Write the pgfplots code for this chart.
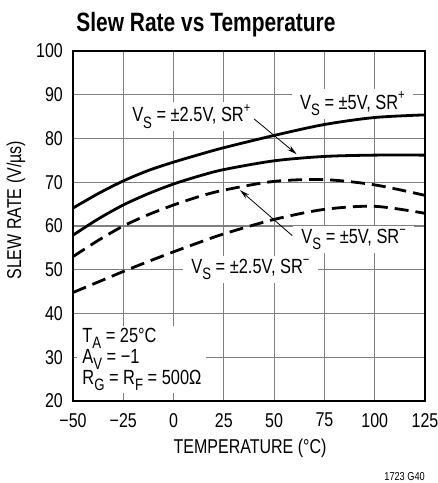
\documentclass[border=0pt]{standalone}
\usepackage{pgfplots}
\pgfplotsset{compat=1.18}
\usetikzlibrary{arrows.meta}
\usepackage{fontspec}
\setmainfont{Liberation Sans}[FakeStretch=0.80]
\newfontfamily\titlefont{Liberation Sans}[FakeStretch=0.79]
\newcommand{\sub}[1]{\raisebox{-0.3em}{\fontsize{16.5bp}{16.5bp}\selectfont #1}}
\newcommand{\sups}[1]{\raisebox{0.45em}{\fontsize{14bp}{14bp}\selectfont #1}}
\definecolor{gridgray}{gray}{0.5}
\tikzset{lbl/.style={fill=white, inner xsep=8bp, inner ysep=3bp, anchor=base west,
  font=\fontsize{20.5bp}{22bp}\selectfont}}

\begin{document}
\begin{tikzpicture}
\begin{axis}[
  set layers,
  at={(0,0)}, anchor=south west,
  scale only axis,
  width=352bp, height=350bp,
  xmin=-50, xmax=125,
  ymin=20, ymax=100,
  xtick={-50,-25,0,25,50,75,100,125},
  xticklabels={−50,−25,0,25,50,75,100,125},
  ytick={20,30,40,50,60,70,80,90,100},
  grid=major,
  grid style={gridgray, line width=1.2bp},
  axis line style={line width=1.8bp},
  major tick length=0pt,
  /pgf/number format/assume math mode=true,
  tick label style={font=\fontsize{20bp}{22bp}\selectfont, inner sep=0pt},
  xticklabel style={anchor=north, yshift=-12bp},
  yticklabel style={anchor=east, xshift=-10bp},
  xlabel={TEMPERATURE (°C)},
  xlabel style={font=\fontsize{20bp}{22bp}\selectfont, at={(axis description cs:0.503,0)}, anchor=base, yshift=-52bp, inner sep=0pt},
  ylabel={SLEW RATE (V/µs)},
  ylabel style={font=\fontsize{20bp}{22bp}\selectfont, at={(axis description cs:-0.162,0.545)}, anchor=center, inner sep=0pt},
]
% V_S = +-5V, SR+
\addplot[black, line width=2.8bp, smooth] coordinates {
  (-50,64.1)(-37.5,67.4)(-25,70.3)(-12.5,72.7)(0,74.6)(12.5,76.3)(25,77.9)
  (50,80.7)(75,83.2)(100,84.8)(125,85.4)};
% V_S = +-2.5V, SR+
\addplot[black, line width=2.8bp, smooth] coordinates {
  (-50,57.9)(-37.5,61.6)(-25,64.8)(-12.5,67.4)(0,69.6)(12.5,71.4)(25,72.9)
  (50,74.9)(75,75.9)(100,76.2)(125,76.2)};
% V_S = +-5V, SR-
\addplot[black, line width=2.8bp, smooth, dash pattern=on 14bp off 7bp] coordinates {
  (-50,53.0)(-37.5,56.7)(-25,60.0)(-12.5,62.6)(0,64.8)(12.5,66.7)(25,68.2)
  (50,70.2)(75,70.6)(100,69.4)(125,67.0)};
% V_S = +-2.5V, SR-
\addplot[black, line width=2.8bp, smooth, dash pattern=on 14bp off 7bp] coordinates {
  (-50,44.8)(-37.5,47.2)(-25,49.6)(-12.5,51.9)(0,54.1)(12.5,56.2)(25,58.2)
  (50,61.5)(75,63.8)(100,64.5)(125,62.9)};

\pgfplotsonlayer{pre main}
\node[lbl] at (axis cs:58.9,86.7) {V\sub{S} = ±5V, SR\sups{+}};
\node[lbl] at (axis cs:-24.6,83.8) {V\sub{S} = ±2.5V, SR\sups{+}};
\node[lbl] at (axis cs:59.5,56.0) {V\sub{S} = ±5V, SR\sups{−}};
\node[lbl] at (axis cs:4.8,49.2) {V\sub{S} = ±2.5V, SR\sups{−}};
\node[fill=white, anchor=north west, align=left, inner xsep=5bp, inner ysep=2bp,
  font=\fontsize{20.5bp}{21bp}\selectfont] at (rel axis cs:0.012,0.214)
  {T\sub{A} = 25°C\\A\sub{V} = −1\\R\sub{G} = R\sub{F} = 500Ω};
\endpgfplotsonlayer
\draw[line width=0.8bp, -{Stealth[length=10bp,width=5bp]}] (axis cs:40.0,84.5) -- (axis cs:61.2,76.4);
\draw[line width=0.8bp, -{Stealth[length=10bp,width=5bp]}] (axis cs:59.0,57.8) -- (axis cs:33.0,68.2);
\end{axis}
\node[anchor=base, font=\titlefont\bfseries\fontsize{26.5bp}{28bp}\selectfont, inner sep=0pt] at (133bp,369bp) {Slew Rate vs Temperature};
\node[anchor=base east, font=\fontsize{11.5bp}{12bp}\selectfont, inner sep=0pt] at (352bp,-79bp) {1723 G40};
\pgfresetboundingbox
\useasboundingbox (-73bp,-82bp) rectangle (365bp,401bp);
\end{tikzpicture}
\end{document}
